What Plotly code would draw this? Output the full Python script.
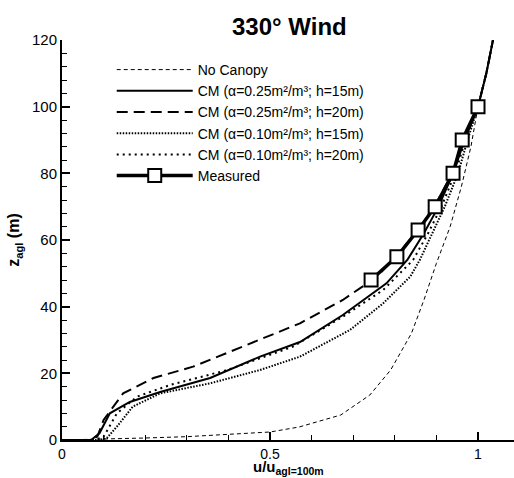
import plotly.graph_objects as go

# ---- data ----
nocanopy_x = [0.0, 0.09, 0.2, 0.3, 0.4, 0.5, 0.57, 0.67, 0.74, 0.79, 0.84, 0.87, 0.90, 0.933, 0.96, 0.983, 1.0, 1.02, 1.036]
nocanopy_z = [0, 0.2, 0.6, 1.0, 1.6, 2.4, 3.9, 7.5, 13.5, 21, 32, 42, 53, 64, 76, 88, 100, 110, 120]

cm25_15_x = [0, 0.07, 0.09, 0.115, 0.163, 0.236, 0.356, 0.476, 0.572, 0.675, 0.78, 0.83, 0.87, 0.905, 0.94, 0.968, 1.0, 1.02, 1.036]
cm25_15_z = [0, 0, 2, 8, 11.4, 14.4, 18.6, 25, 29.4, 37.5, 47, 54, 62, 70, 80, 90, 100, 110, 120]

cm25_20_x = [0, 0.07, 0.085, 0.1, 0.147, 0.22, 0.315, 0.435, 0.572, 0.675, 0.757, 0.81, 0.855, 0.895, 0.938, 0.965, 1.0, 1.02, 1.036]
cm25_20_z = [0, 0, 1, 6, 14, 18.6, 22, 28, 35, 42, 49, 56, 63, 70, 80, 90, 100, 110, 120]

cm10_15_x = [0, 0.09, 0.108, 0.132, 0.17, 0.236, 0.356, 0.476, 0.572, 0.692, 0.772, 0.837, 0.86, 0.89, 0.92, 0.952, 0.975, 1.0, 1.02, 1.036]
cm10_15_z = [0, 0, 0.6, 4, 10, 14, 17, 21, 25, 33, 41, 49, 54, 62, 70, 80, 90, 100, 110, 120]

cm10_20_x = [0, 0.08, 0.1, 0.132, 0.18, 0.26, 0.397, 0.555, 0.675, 0.772, 0.844, 0.88, 0.912, 0.945, 0.97, 1.0, 1.02, 1.036]
cm10_20_z = [0, 0, 1, 8, 13, 16.5, 21, 28, 37, 45, 54, 62, 70, 80, 90, 100, 110, 120]

meas_x = [0.743, 0.805, 0.856, 0.897, 0.94, 0.962, 1.0]
meas_z = [48, 55, 63, 70, 80, 90, 100]

names = [
    "No Canopy",
    "CM (\u03b1=0.25m\u00b2/m\u00b3; h=15m)",
    "CM (\u03b1=0.25m\u00b2/m\u00b3; h=20m)",
    "CM (\u03b1=0.10m\u00b2/m\u00b3; h=15m)",
    "CM (\u03b1=0.10m\u00b2/m\u00b3; h=20m)",
    "Measured",
]

x_ticks = [0, 0.5, 1]
x_ticktext = ["0", "0.5", "1"]

fig = go.Figure()
fig.add_trace(go.Scatter(x=nocanopy_x, y=nocanopy_z, mode="lines", name=names[0],
                         line=dict(color="black", width=1, dash="4px,3px")))
fig.add_trace(go.Scatter(x=cm25_15_x, y=cm25_15_z, mode="lines", name=names[1],
                         line=dict(color="black", width=2, dash="solid")))
fig.add_trace(go.Scatter(x=cm25_20_x, y=cm25_20_z, mode="lines", name=names[2],
                         line=dict(color="black", width=2, dash="11px,6px")))
fig.add_trace(go.Scatter(x=cm10_15_x, y=cm10_15_z, mode="lines", name=names[3],
                         line=dict(color="black", width=2, dash="1.5px,1.5px")))
fig.add_trace(go.Scatter(x=cm10_20_x, y=cm10_20_z, mode="lines", name=names[4],
                         line=dict(color="black", width=2, dash="2px,4px")))
fig.add_trace(go.Scatter(x=meas_x, y=meas_z, mode="lines+markers", name=names[5],
                         line=dict(color="black", width=3.5),
                         marker=dict(symbol="square", size=13, color="white",
                                     line=dict(color="black", width=2))))

font_family = "Liberation Sans, Arial, sans-serif"

fig.update_layout(
    width=514, height=478,
    margin=dict(l=62, r=0, t=40, b=38),
    paper_bgcolor="white", plot_bgcolor="white",
    font=dict(family=font_family, size=14, color="black"),
    title=dict(text="<b>330\u00b0 Wind</b>", x=0.563, xanchor="center", y=0.945, yanchor="middle",
               font=dict(size=24, family=font_family, color="black")),
    showlegend=True,
    legend=dict(x=0.11, y=0.965, xanchor="left", yanchor="top",
                bgcolor="rgba(0,0,0,0)", borderwidth=0,
                font=dict(size=14, family=font_family), itemwidth=76,
                tracegroupgap=0),
    xaxis=dict(range=[0, 1.0865], showgrid=False, zeroline=False,
               showline=True, linecolor="black", linewidth=2,
               ticks="inside", ticklen=8, tickwidth=1.5, tickcolor="black",
               tickvals=x_ticks, ticktext=x_ticktext,
               minor=dict(ticks="inside", ticklen=5, tickwidth=1, tickcolor="black", dtick=0.1, showgrid=False),
               tickfont=dict(size=14)),
    yaxis=dict(range=[0, 120], showgrid=False, zeroline=False,
               showline=True, linecolor="black", linewidth=2,
               ticks="inside", ticklen=8, tickwidth=1.5, tickcolor="black",
               dtick=20,
               minor=dict(ticks="inside", ticklen=5, tickwidth=1, tickcolor="black", dtick=4, showgrid=False),
               title=dict(text="<b>z<sub>agl</sub> (m)</b>", font=dict(size=16), standoff=8),
               tickfont=dict(size=15)),
    annotations=[dict(text="<b>u/u<sub>agl=100m</sub></b>", xref="paper", yref="paper",
                      x=0.5, y=-0.0945, xanchor="center", yanchor="bottom", showarrow=False,
                      font=dict(size=15, family=font_family, color="black"),
                      borderpad=0)],
)

fig.write_html("out.html")
